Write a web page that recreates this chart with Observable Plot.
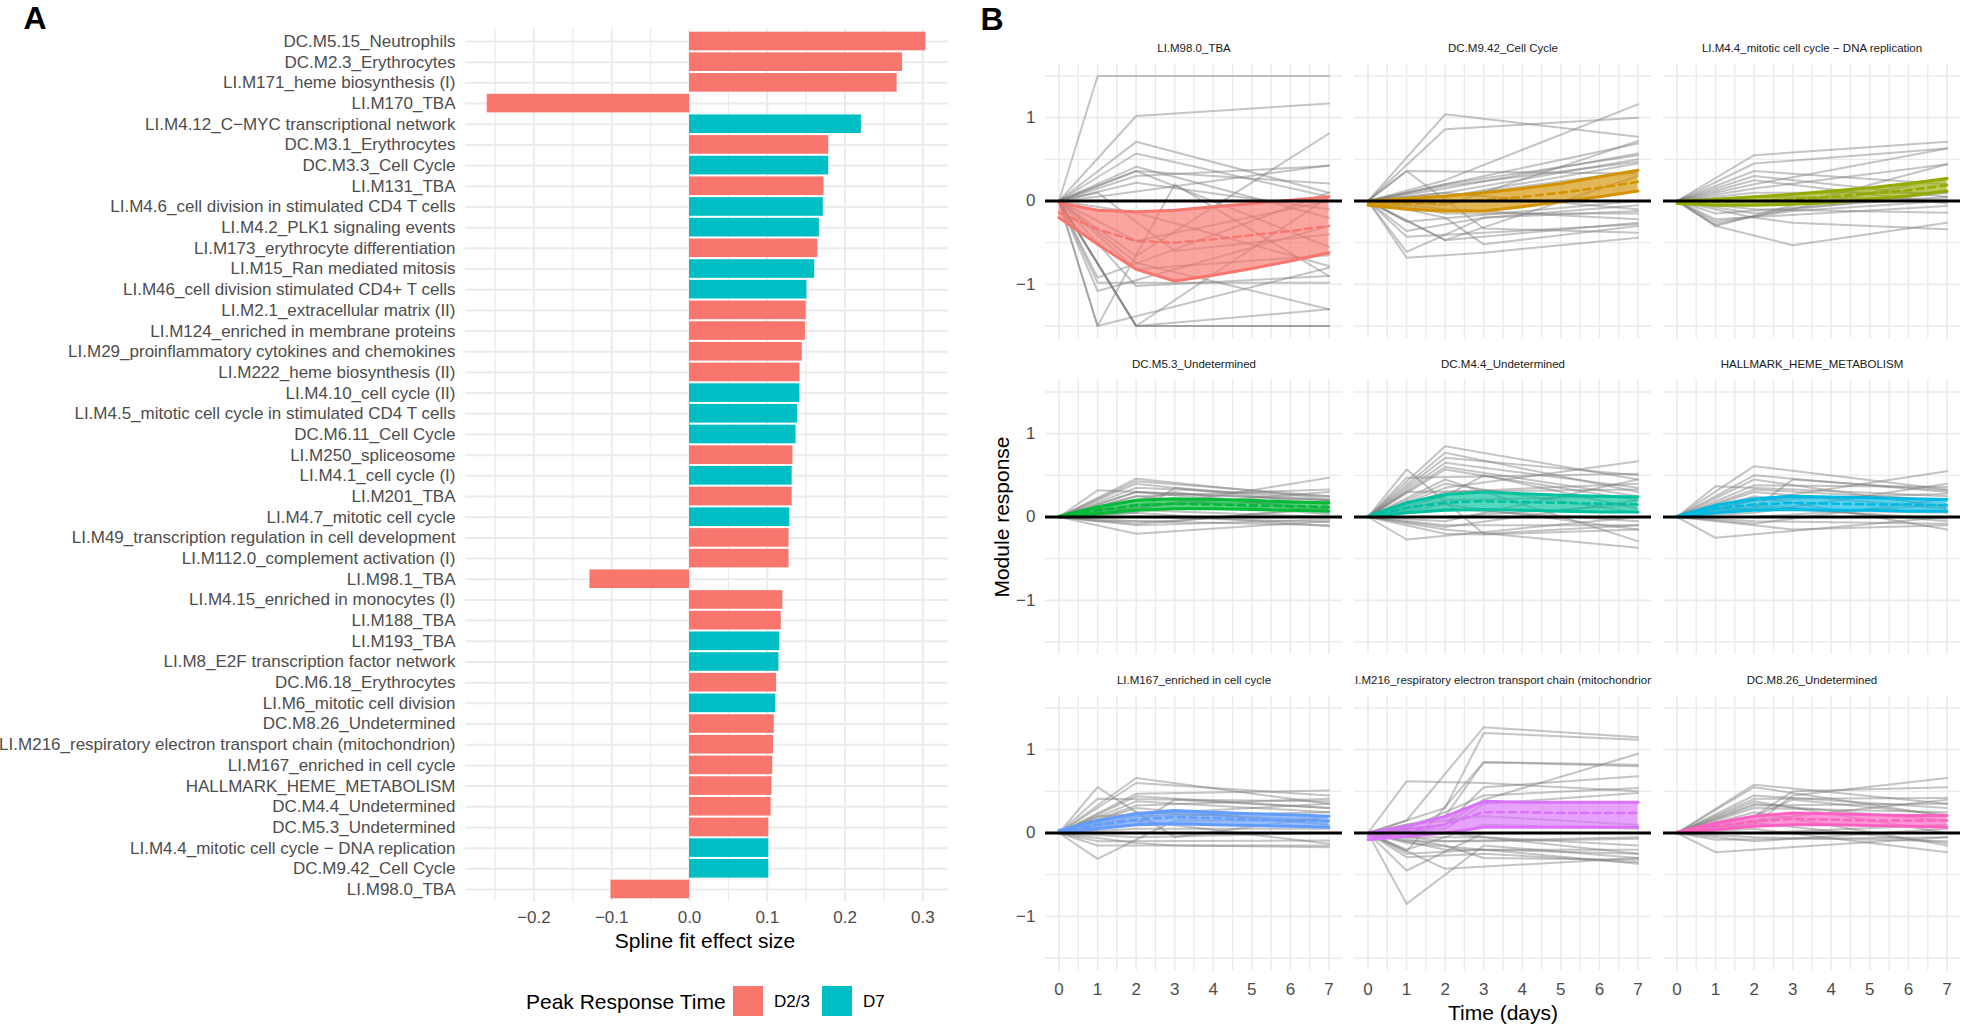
<!DOCTYPE html>
<html><head><meta charset="utf-8">
<script src="https://cdn.jsdelivr.net/npm/d3@7"></script>
<script src="https://cdn.jsdelivr.net/npm/@observablehq/plot@0.6"></script>
<style>
body{margin:0;background:#fff;}
#root{position:relative;width:1961px;height:1028px;overflow:hidden;background:#fff;font-family:"Liberation Sans",Arial,Helvetica,sans-serif;}
.abs{position:absolute;white-space:nowrap;line-height:1;}
</style></head><body><div id="root"></div>
<script>
// ---------------- Panel A data ----------------
const moduleNames = [
  "DC.M5.15_Neutrophils","DC.M2.3_Erythrocytes","LI.M171_heme biosynthesis (I)","LI.M170_TBA",
  "LI.M4.12_C−MYC transcriptional network","DC.M3.1_Erythrocytes","DC.M3.3_Cell Cycle","LI.M131_TBA",
  "LI.M4.6_cell division in stimulated CD4 T cells","LI.M4.2_PLK1 signaling events","LI.M173_erythrocyte differentiation",
  "LI.M15_Ran mediated mitosis","LI.M46_cell division stimulated CD4+ T cells","LI.M2.1_extracellular matrix (II)",
  "LI.M124_enriched in membrane proteins","LI.M29_proinflammatory cytokines and chemokines","LI.M222_heme biosynthesis (II)",
  "LI.M4.10_cell cycle (II)","LI.M4.5_mitotic cell cycle in stimulated CD4 T cells","DC.M6.11_Cell Cycle",
  "LI.M250_spliceosome","LI.M4.1_cell cycle (I)","LI.M201_TBA","LI.M4.7_mitotic cell cycle",
  "LI.M49_transcription regulation in cell development","LI.M112.0_complement activation (I)","LI.M98.1_TBA",
  "LI.M4.15_enriched in monocytes (I)","LI.M188_TBA","LI.M193_TBA","LI.M8_E2F transcription factor network",
  "DC.M6.18_Erythrocytes","LI.M6_mitotic cell division","DC.M8.26_Undetermined",
  "LI.M216_respiratory electron transport chain (mitochondrion)","LI.M167_enriched in cell cycle",
  "HALLMARK_HEME_METABOLISM","DC.M4.4_Undetermined","DC.M5.3_Undetermined",
  "LI.M4.4_mitotic cell cycle − DNA replication","DC.M9.42_Cell Cycle","LI.M98.0_TBA"
];
const effectSizes = [0.304,0.274,0.267,-0.260,0.221,0.179,0.179,0.173,0.172,0.167,0.165,0.161,0.151,0.150,
  0.149,0.145,0.142,0.142,0.139,0.137,0.133,0.132,0.132,0.129,0.128,0.128,-0.128,0.120,0.118,0.116,0.115,
  0.112,0.111,0.109,0.108,0.107,0.106,0.105,0.102,0.102,0.102,-0.101];
const peakTimes = ["D2/3","D2/3","D2/3","D2/3","D7","D2/3","D7","D2/3","D7","D7","D2/3","D7","D7","D2/3",
  "D2/3","D2/3","D2/3","D7","D7","D7","D2/3","D7","D2/3","D7","D2/3","D2/3","D2/3","D2/3","D2/3","D7","D7",
  "D2/3","D7","D2/3","D2/3","D2/3","D2/3","D2/3","D2/3","D7","D7","D2/3"];
const peakLevels = ["D2/3","D7"];
const peakColors = ["#F8766D","#00BFC4"];
const effectTicks = [-0.2,-0.1,0,0.1,0.2,0.3];
const effectMinorTicks = [-0.25,-0.15,-0.05,0.05,0.15,0.25];

// ---------------- Panel B data ----------------
const facetTitles = ["LI.M98.0_TBA","DC.M9.42_Cell Cycle","LI.M4.4_mitotic cell cycle − DNA replication",
  "DC.M5.3_Undetermined","DC.M4.4_Undetermined","HALLMARK_HEME_METABOLISM",
  "LI.M167_enriched in cell cycle","LI.M216_respiratory electron transport chain (mitochondrion)","DC.M8.26_Undetermined"];
const facetColors = ["#F8766D","#D39200","#93AA00","#00BA38","#00C19F","#00B9E3","#619CFF","#DB72FB","#FF61C3"];
const subjectDays = [0,1,2,3,7];   // columns of each subject trajectory (null = not sampled)
const ribbonDays = [0,1,2,3,4,5,6,7];
const dayTicks = [0,1,2,3,4,5,6,7];
const dayMinor = [0.5,1.5,2.5,3.5,4.5,5.5,6.5];
const responseTicks = [-1,0,1];
const responseMinor = [-1.5,-0.5,0.5,1.5];

const lines_LIM98_0 = [
  [0,1.5,null,null,1.5],[0,null,1.02,null,1.17],[0,null,0.71,null,0.1],[0,null,0.57,null,0.05],
  [0,null,0.41,null,-0.2],[0,null,0.36,null,0.21],[0,null,0.36,null,-0.55],[0,null,0.22,null,-0.1],
  [0,0.05,null,null,0.43],[0,-1.5,null,0.2,-0.9],[0,-1.5,null,null,-0.8],[0,null,-1.5,null,-1.5],
  [0,null,-1.5,null,-1.5],[0,null,-1.5,null,-1.3],[0,null,-1.5,null,0.05],[0,-0.92,null,null,0.1],
  [0,-0.98,null,null,-0.98],[0,-1.08,null,null,-0.3],[0,null,-0.66,null,0.81],[0,null,-0.74,null,-1.3],
  [0,null,-0.82,null,-0.65],[0,null,-1.02,null,-0.9],[0,null,-0.14,null,-0.78],[0,null,-0.48,null,0.0],
  [0,0.1,null,-0.6,-0.4],[0,null,0.3,null,0.42]
];
const lines_DCM9_42 = [
  [0,null,1.04,null,0.77],[0,null,0.86,null,1.0],[0,0.36,null,null,0.33],[0,null,0.25,null,1.16],
  [0,null,0.2,null,0.69],[0,null,0.15,null,0.57],[0,null,0.2,null,0.55],[0,null,0.18,null,0.47],
  [0,null,0.1,null,0.5],[0,null,0.05,null,0.36],[0,null,0.05,null,0.45],[0,-0.36,null,-0.2,-0.12],
  [0,-0.43,null,null,-0.28],[0,-0.61,null,-0.2,-0.05],[0,-0.68,null,-0.62,-0.44],[0,null,-0.47,null,0.3],
  [0,null,-0.47,null,-0.26],[0,0.36,null,-0.33,-0.38],[0,null,-0.2,-0.52,-0.3],[0,null,-0.15,null,-0.15],
  [0,-0.25,null,null,0.0],[0,null,-0.1,null,-0.22],[0,null,-0.05,null,0.72],[0,null,0.1,null,-0.1]
];
const lines_LIM4_4 = [
  [0,null,0.55,null,0.71],[0,null,0.45,null,0.63],[0,null,0.36,null,0.2],[0,null,0.3,null,0.05],
  [0,null,0.2,null,0.63],[0,null,0.15,null,0.44],[0,-0.3,null,null,0.44],[0,-0.28,null,null,0.28],
  [0,-0.25,null,-0.12,0.0],[0,-0.22,null,null,-0.06],[0,-0.3,null,-0.53,-0.26],[0,null,-0.2,-0.26,-0.34],
  [0,null,0.1,null,0.1],[0,null,-0.1,null,-0.14],[0,null,0.05,null,0.02],[0,-0.15,null,null,0.05],
  [0,null,0.25,null,-0.03],[0,null,-0.15,null,0.1]
];
const lines_DCM5_3 = [
  [0,null,0.46,null,0.22],[0,null,0.43,null,0.25],[0,null,0.4,null,0.15],[0,0.32,null,null,0.2],
  [0,null,0.3,null,0.1],[0,null,0.25,null,0.33],[0,null,-0.2,null,-0.05],[0,null,0.1,null,0.47],
  [0,null,0.2,0.3,0.05],[0,null,0.15,null,0.18],[0,null,0.05,0.35,0.2],[0,null,-0.05,null,-0.1],
  [0,null,0.0,null,-0.06],[0,0.1,null,null,0.0],[0,null,-0.08,null,0.1],[0,null,0.35,null,0.25],
  [0,null,-0.1,null,-0.03],[0,null,0.05,null,-0.11],[0,-0.05,null,-0.05,0.12],[0,null,0.25,null,0.03],
  [0,null,0.3,0.28,0.2],[0,null,0.12,null,0.3]
];
const lines_DCM4_4 = [
  [0,null,0.85,null,0.45],[0,null,0.77,null,0.3],[0,null,0.71,null,0.5],[0,null,0.65,null,0.35],
  [0,null,0.57,null,0.2],[0,0.57,null,-0.2,-0.1],[0,0.47,null,null,0.52],[0,null,0.35,null,0.67],
  [0,-0.27,null,null,0.0],[0,null,0.45,null,-0.29],[0,null,-0.15,null,-0.37],[0,null,-0.2,-0.21,-0.15],
  [0,null,0.3,null,0.4],[0,null,0.2,null,0.25],[0,null,0.1,null,-0.05],[0,null,-0.1,null,-0.1],
  [0,null,0.0,null,0.15],[0,0.3,null,null,0.33],[0,null,0.25,0.5,0.1],[0,null,-0.05,null,0.45],
  [0,null,0.15,null,-0.15],[0,null,0.4,null,0.05],[0,null,0.6,null,0.25],[0,null,-0.12,null,0.2]
];
const lines_HALLMARK = [
  [0,null,0.61,null,0.33],[0,null,0.5,null,0.3],[0,null,0.38,null,0.36],[0,null,0.33,null,0.2],
  [0,0.37,null,null,0.25],[0,-0.25,null,null,0.0],[0,null,0.3,null,0.1],[0,null,0.2,null,0.55],
  [0,null,0.15,null,-0.05],[0,null,0.25,null,-0.15],[0,null,-0.1,-0.15,-0.1],[0,null,0.05,null,0.4],
  [0,null,0.1,0.45,0.32],[0,null,0.0,null,0.15],[0,null,-0.05,null,-0.08],[0,0.1,null,null,0.05],
  [0,null,0.2,null,0.28],[0,null,0.45,null,0.12],[0,null,0.12,null,-0.02],[0,null,-0.08,null,0.22]
];
const lines_LIM167 = [
  [0,null,0.66,null,0.35],[0,null,0.6,null,0.45],[0,0.55,null,-0.05,0.2],[0,0.41,null,null,0.38],
  [0,-0.31,null,0.15,0.15],[0,null,0.47,null,0.51],[0,null,0.44,null,0.3],[0,null,0.33,null,0.41],
  [0,null,0.3,null,0.1],[0,null,0.2,null,0.25],[0,-0.15,null,-0.15,-0.17],[0,-0.1,null,null,-0.09],
  [0,null,0.1,0.4,0.3],[0,null,0.15,null,-0.13],[0,null,0.05,null,0.05],[0,null,-0.05,null,0.0],
  [0,0.2,null,null,0.35],[0,null,0.25,null,0.15],[0,null,-0.12,-0.15,-0.15],[0,null,0.38,null,0.25]
];
const lines_LIM216 = [
  [0,0.15,null,1.27,1.15],[0,null,0.3,1.2,1.12],[0,-0.22,null,0.85,0.82],[0,null,0.2,0.85,0.8],
  [0,0.62,null,0.6,0.5],[0,null,0.1,0.55,0.68],[0,0.05,null,0.45,0.54],[0,-0.85,null,-0.15,-0.3],
  [0,-0.45,null,0.0,0.0],[0,-0.29,null,-0.25,-0.35],[0,-0.25,null,-0.2,-0.37],[0,null,-0.43,null,-0.3],
  [0,-0.1,null,-0.1,-0.07],[0,null,-0.2,null,-0.2],[0,-0.05,null,-0.05,-0.15],[0,null,-0.15,-0.3,-0.32],
  [0,null,0.05,0.35,0.48],[0,-0.12,null,-0.2,-0.25],[0,null,-0.1,null,-0.05],[0,0.1,null,0.2,0.1],
  [0,null,0.0,null,-0.25],[0,-0.2,null,0.1,0.05],[0,null,0.1,0.4,0.95]
];
const lines_DCM8_26 = [
  [0,null,0.58,null,0.35],[0,null,0.55,null,0.2],[0,null,0.45,null,0.3],[0,null,0.41,null,0.42],
  [0,null,0.38,null,0.0],[0,null,0.3,null,0.25],[0,-0.23,null,null,-0.05],[0,null,0.1,0.45,0.66],
  [0,null,0.2,0.5,0.55],[0,null,0.25,null,-0.15],[0,null,0.05,null,-0.23],[0,null,-0.05,null,-0.1],
  [0,null,0.15,null,0.4],[0,null,0.0,null,0.1],[0,-0.08,null,null,-0.05],[0,null,0.33,null,0.35],
  [0,null,-0.1,null,0.05],[0,null,0.2,0.4,0.22],[0,null,0.12,null,-0.12],[0,null,0.35,null,0.15]
];
const facetLines = [lines_LIM98_0,lines_DCM9_42,lines_LIM4_4,lines_DCM5_3,lines_DCM4_4,lines_HALLMARK,lines_LIM167,lines_LIM216,lines_DCM8_26];

const ribbonLower = [
  [-0.2,-0.52,-0.82,-0.96,-0.89,-0.81,-0.72,-0.62],
  [-0.05,-0.1,-0.12,-0.12,-0.07,-0.01,0.05,0.12],
  [-0.03,-0.05,-0.05,-0.04,-0.02,0.02,0.06,0.12],
  [0,0.04,0.08,0.1,0.1,0.09,0.08,0.07],
  [0,0.05,0.08,0.09,0.08,0.07,0.06,0.06],
  [0,0.05,0.08,0.09,0.08,0.08,0.07,0.07],
  [0,0.05,0.1,0.11,0.1,0.09,0.08,0.07],
  [-0.08,-0.04,0.0,0.07,0.07,0.07,0.07,0.07],
  [0,0.04,0.08,0.1,0.1,0.09,0.08,0.07]
];
const ribbonMean = [
  [-0.14,-0.34,-0.48,-0.5,-0.46,-0.41,-0.36,-0.3],
  [-0.03,-0.03,-0.02,0.01,0.05,0.1,0.16,0.23],
  [-0.02,-0.01,0.0,0.02,0.05,0.09,0.13,0.19],
  [0,0.08,0.14,0.16,0.15,0.14,0.13,0.12],
  [0,0.11,0.17,0.19,0.18,0.17,0.16,0.15],
  [0,0.1,0.15,0.17,0.16,0.15,0.15,0.14],
  [0.01,0.1,0.16,0.19,0.18,0.16,0.15,0.14],
  [-0.04,0.02,0.1,0.25,0.25,0.24,0.24,0.24],
  [0,0.08,0.14,0.17,0.16,0.15,0.15,0.15]
];
const ribbonUpper = [
  [-0.02,-0.11,-0.13,-0.11,-0.07,-0.03,0.01,0.05],
  [0.0,0.03,0.06,0.1,0.15,0.21,0.29,0.37],
  [0.0,0.02,0.05,0.08,0.12,0.16,0.21,0.27],
  [0.01,0.12,0.2,0.22,0.21,0.2,0.18,0.17],
  [0.01,0.17,0.27,0.3,0.28,0.26,0.25,0.24],
  [0.01,0.14,0.22,0.25,0.24,0.23,0.22,0.21],
  [0.03,0.15,0.23,0.27,0.25,0.23,0.22,0.2],
  [0.0,0.08,0.2,0.38,0.37,0.37,0.37,0.37],
  [0.01,0.12,0.2,0.24,0.23,0.22,0.21,0.21]
];

// ---------------- build ----------------
const FONT = '"Liberation Sans", Arial, Helvetica, sans-serif';
const GRID = "#EBEBEB";
const AXIS_TEXT = "#4D4D4D";
const root = document.getElementById("root");
const minus = s => s.replace(/-/g, "−");

const barData = moduleNames.map((m, i) => ({module: m, effect: effectSizes[i], peak: peakTimes[i]}));

const plotA = Plot.plot({
  width: 960, height: 960,
  marginLeft: 465, marginRight: 12, marginTop: 28.6, marginBottom: 58.6,
  style: {fontFamily: FONT, fontSize: "17px", color: AXIS_TEXT, background: "transparent", overflow: "visible"},
  x: {domain: [-0.288, 0.333], ticks: effectTicks, tickFormat: d => minus(d.toFixed(1)), tickSize: 0, tickPadding: 9, label: null},
  y: {domain: moduleNames, paddingInner: 0.1, paddingOuter: 0.15, round: false, tickSize: 0, tickPadding: 10, label: null},
  color: {domain: peakLevels, range: peakColors},
  marks: [
    Plot.ruleX(effectMinorTicks, {stroke: GRID, strokeWidth: 1.2}),
    Plot.ruleX(effectTicks, {stroke: GRID, strokeWidth: 2}),
    Plot.ruleY(moduleNames, {y: d => d, stroke: GRID, strokeWidth: 2}),
    Plot.barX(barData, {x: "effect", y: "module", fill: "peak"})
  ]
});
plotA.style.position = "absolute"; plotA.style.left = "0px"; plotA.style.top = "0px";
root.appendChild(plotA);

// Panel B tables
const lineRows = [];
facetLines.forEach((lines, f) => lines.forEach((vals, s) => vals.forEach((v, k) => {
  if (v !== null) lineRows.push({fc: f % 3, fr: Math.floor(f / 3), id: f * 100 + s, day: subjectDays[k], value: v});
})));
const ribbonRows = [];
facetColors.forEach((c, f) => ribbonDays.forEach((d, k) => ribbonRows.push({
  fc: f % 3, fr: Math.floor(f / 3), f, day: d,
  lo: ribbonLower[f][k], mid: ribbonMean[f][k], hi: ribbonUpper[f][k], color: c
})));
const titleRows = facetTitles.map((t, f) => ({fc: f % 3, fr: Math.floor(f / 3), title: t}));

const fb = {fx: "fc", fy: "fr"};
const plotB = Plot.plot({
  width: 1001, height: 1028,
  marginLeft: 85, marginRight: 1, marginTop: 63, marginBottom: 58,
  style: {fontFamily: FONT, fontSize: "17px", color: AXIS_TEXT, background: "transparent", overflow: "visible"},
  fx: {domain: [0, 1, 2], paddingInner: 12 / 309, paddingOuter: 0, round: false, axis: null},
  fy: {domain: [0, 1, 2], paddingInner: 41 / 316, paddingOuter: 0, round: false, axis: null},
  x: {domain: [-0.35, 7.35], ticks: dayTicks, tickFormat: d => String(d), tickSize: 0, tickPadding: 12, label: null},
  y: {domain: [-1.65, 1.65], ticks: responseTicks, tickFormat: d => minus(String(d)), tickSize: 0, tickPadding: 10, label: null},
  color: {type: "identity"},
  marks: [
    Plot.ruleX(dayMinor, {stroke: GRID, strokeWidth: 1.4}),
    Plot.ruleX(dayTicks, {stroke: GRID, strokeWidth: 1.6}),
    Plot.ruleY(responseMinor, {stroke: GRID, strokeWidth: 1.4}),
    Plot.ruleY(responseTicks, {stroke: GRID, strokeWidth: 1.6}),
    Plot.line(lineRows, {...fb, x: "day", y: "value", z: "id", stroke: "#7F7F7F", strokeOpacity: 0.45, strokeWidth: 2}),
    Plot.areaY(ribbonRows, {...fb, x: "day", y1: "lo", y2: "hi", z: "f", fill: "color", fillOpacity: 0.66}),
    Plot.line(ribbonRows, {...fb, x: "day", y: "hi", z: "f", stroke: "color", strokeWidth: 3}),
    Plot.line(ribbonRows, {...fb, x: "day", y: "lo", z: "f", stroke: "color", strokeWidth: 3}),
    Plot.line(ribbonRows, {...fb, x: "day", y: "mid", z: "f", stroke: "color", strokeWidth: 2.5, strokeDasharray: "7,5"}),
    Plot.ruleY([0], {stroke: "#000", strokeWidth: 2.8}),
    Plot.text(titleRows, {...fb, text: "title", frameAnchor: "top", dy: -15, lineAnchor: "middle", fontSize: 11.5, fill: "#1A1A1A"})
  ]
});
plotB.style.position = "absolute"; plotB.style.left = "960px"; plotB.style.top = "0px";
root.appendChild(plotB);

// clip long strip title to the panel width, as in the strip of the original
plotB.querySelectorAll("text").forEach(t => {
  if (facetTitles.includes(t.textContent)) {
    const w = t.getBBox().width;
    if (w > 297) t.style.clipPath = `inset(-5px ${(w - 297) / 2}px)`;
  }
});

// ---------------- HTML text: panel tags, axis titles, legend ----------------
function addText(txt, x, y, size, opts = {}) {
  const d = document.createElement("div");
  d.className = "abs";
  d.textContent = txt;
  d.style.left = x + "px"; d.style.top = y + "px";
  d.style.fontSize = size + "px";
  d.style.color = opts.color || "#000";
  if (opts.bold) d.style.fontWeight = "bold";
  d.style.transform = opts.transform || "translate(-50%,-50%)";
  root.appendChild(d);
  return d;
}
addText("A", 35, 18, 32, {bold: true});
addText("B", 992, 19, 32, {bold: true});
addText("Spline fit effect size", 705, 940, 21);
addText("Module response", 1001, 517, 21, {transform: "translate(-50%,-50%) rotate(-90deg)"});
addText("Time (days)", 1503, 1012, 21);
addText("Peak Response Time", 526, 1001, 21, {transform: "translate(0,-50%)"});
const keyX = [733, 822];
peakLevels.forEach((lev, i) => {
  const k = document.createElement("div");
  k.style.cssText = `position:absolute;left:${keyX[i]}px;top:986px;width:30px;height:30px;background:${peakColors[i]};`;
  root.appendChild(k);
  addText(lev, keyX[i] + 41, 1001, 17, {transform: "translate(0,-50%)"});
});
</script></body></html>
